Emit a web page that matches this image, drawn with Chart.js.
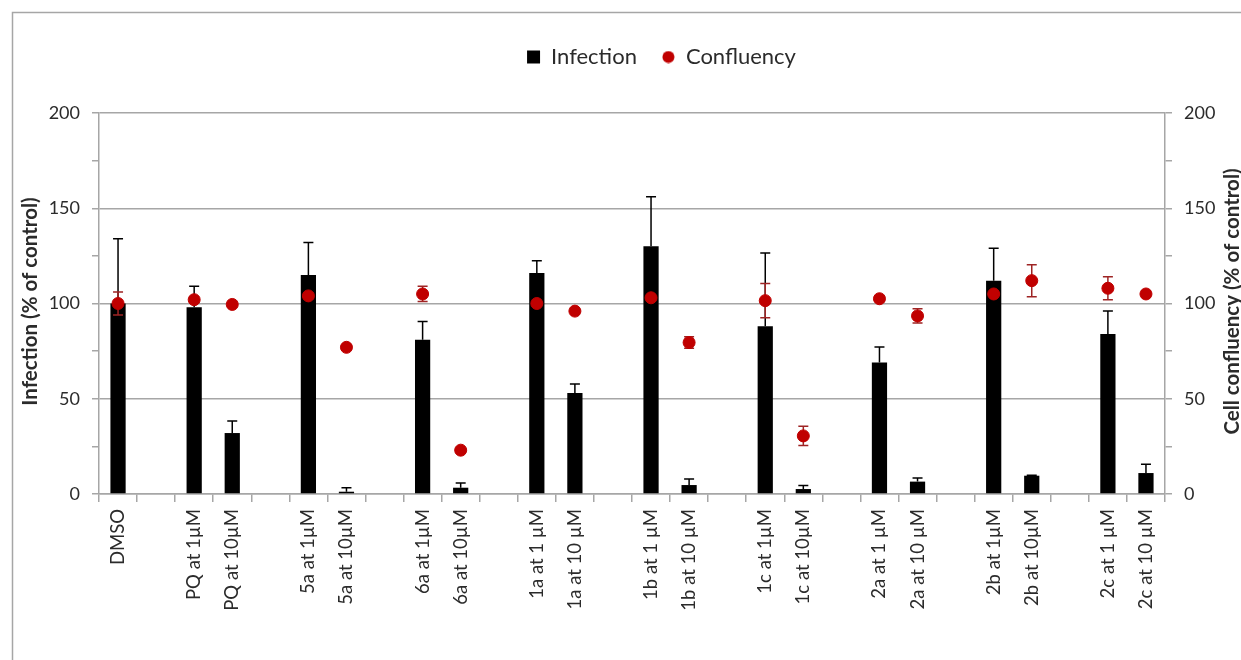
<!DOCTYPE html>
<html>
<head>
<meta charset="utf-8">
<script src="https://cdn.jsdelivr.net/npm/chart.js@4.4.1/dist/chart.umd.min.js"></script>
<style>
  html, body { margin: 0; padding: 0; background: #ffffff; }
  #wrap { width: 1241px; height: 660px; position: relative; }
</style>
</head>
<body>
<div id="wrap"><canvas id="c" width="1241" height="660"></canvas></div>
<script>
// Compounds tested at two concentrations; empty entries separate the groups.
const categories = [
  'DMSO', '',
  'PQ at 1µM', 'PQ at 10µM', '',
  '5a at 1µM', '5a at 10µM', '',
  '6a at 1µM', '6a at 10µM', '',
  '1a at 1 µM', '1a at 10 µM', '',
  '1b at 1 µM', '1b at 10 µM', '',
  '1c at 1µM', '1c at 10µM', '',
  '2a at 1 µM', '2a at 10 µM', '',
  '2b at 1µM', '2b at 10µM', '',
  '2c at 1 µM', '2c at 10 µM'
];

// Infection (% of control) and its upper error
const infection = [100, null, 98, 32, null, 115, 1.2, null, 81, 3.3, null, 116, 53, null, 130, 4.7, null, 88, 2.6, null, 69, 6.5, null, 112, 9.6, null, 84, 11];
const infectionErr = [34, null, 11, 6.3, null, 17, 2.1, null, 9.6, 2.5, null, 6.5, 4.7, null, 26, 3.2, null, 38.5, 1.9, null, 8.2, 1.9, null, 17, 0.3, null, 12, 4.6];

// Cell confluency (% of control) and its +/- error
const confluency = [100, null, 102, 99.5, null, 104, 77, null, 105, 23, null, 100, 96, null, 103, 79.5, null, 101.5, 30.5, null, 102.5, 93.5, null, 105, 112, null, 108, 105];
const confluencyErr = [6, null, 1.5, 1, null, 1.5, 1, null, 4, 1, null, 1, 1.5, null, 1, 3, null, 9, 5, null, 1.5, 3.7, null, 1, 8.4, null, 6, 1.5];

// Axis ticks (every 25 marked, every 50 labelled)
const yTickLabels = [0, 50, 100, 150, 200];

const axisTitles = { left: 'Infection (% of control)', right: 'Cell confluency (% of control)' };

const FONT = 'Lato, "Open Sans", "DejaVu Sans", sans-serif';
const TEXT = '#2b2b2b';
const GRID = '#a6a6a6';
const RED = '#c00000';

// Small round legend marker
const legendDot = document.createElement('canvas');
legendDot.width = 13; legendDot.height = 13;
(() => {
  const g = legendDot.getContext('2d');
  g.fillStyle = RED;
  g.beginPath(); g.arc(6.5, 6.5, 6, 0, Math.PI * 2); g.fill();
})();

// Whiskers: infection upward only (drawn over the bars), confluency both ways (under the dots)
const errorBars = {
  id: 'errorBars',
  _draw(chart, meta, ds) {
    const yScale = chart.scales[ds.yAxisID];
    const ctx = chart.ctx;
    ctx.save();
    ctx.strokeStyle = ds.errorColor;
    ctx.lineWidth = 1.5;
    meta.data.forEach((el, i) => {
      const v = ds.data[i], e = ds.errors[i];
      if (v == null || e == null) return;
      const x = el.x;
      const yTop = yScale.getPixelForValue(v + e);
      const yBot = yScale.getPixelForValue(ds.errorBoth ? v - e : v);
      const cap = 5;
      ctx.beginPath();
      ctx.moveTo(x, yTop); ctx.lineTo(x, yBot);
      ctx.moveTo(x - cap, yTop); ctx.lineTo(x + cap, yTop);
      if (ds.errorBoth) { ctx.moveTo(x - cap, yBot); ctx.lineTo(x + cap, yBot); }
      ctx.stroke();
    });
    ctx.restore();
  },
  beforeDatasetDraw(chart, args) {
    const ds = chart.data.datasets[args.index];
    if (ds.errors && ds.errorBoth) this._draw(chart, args.meta, ds);
  },
  afterDatasetDraw(chart, args) {
    const ds = chart.data.datasets[args.index];
    if (ds.errors && !ds.errorBoth) this._draw(chart, args.meta, ds);
  }
};

// Outer frame, legend offset and the two vertical axis titles (both read bottom to top)
const decorations = {
  id: 'decorations',
  afterLayout(chart) {
    // the legend sits a little right of the canvas centre
    if (chart.legend) chart.legend.left += 82;
  },
  beforeDraw(chart) {
    const ctx = chart.ctx;
    ctx.save();
    ctx.fillStyle = '#ffffff';
    ctx.fillRect(0, 0, chart.width, chart.height);
    ctx.strokeStyle = GRID;
    ctx.lineWidth = 1.5;
    ctx.strokeRect(12.5, 12.5, chart.width + 20, chart.height + 20);
    ctx.restore();
  },
  afterDraw(chart) {
    const ctx = chart.ctx;
    const area = chart.chartArea;
    const cy = (area.top + area.bottom) / 2 - 2;
    const put = (text, x) => {
      ctx.save();
      ctx.translate(x, cy);
      ctx.rotate(-Math.PI / 2);
      ctx.font = 'bold 20.5px ' + FONT;
      ctx.fillStyle = TEXT;
      ctx.textAlign = 'center';
      ctx.textBaseline = 'middle';
      ctx.fillText(text, 0, 0);
      ctx.restore();
    };
    put(axisTitles.left, 30);
    put(axisTitles.right, 1232);
  }
};

const yTicks = {
  stepSize: 25,
  color: TEXT,
  font: { family: FONT, size: 18 },
  padding: 12,
  callback: v => (yTickLabels.includes(v) ? v : '')
};

new Chart(document.getElementById('c'), {
  data: {
    labels: categories,
    datasets: [
      {
        type: 'bar',
        label: 'Infection',
        data: infection,
        errors: infectionErr,
        errorBoth: false,
        errorColor: '#000000',
        yAxisID: 'y',
        backgroundColor: '#000000',
        borderWidth: 0,
        barPercentage: 0.4,
        categoryPercentage: 1,
        pointStyle: 'rect',
        order: 2
      },
      {
        type: 'line',
        label: 'Confluency',
        data: confluency,
        errors: confluencyErr,
        errorBoth: true,
        errorColor: '#9e2424',
        yAxisID: 'y2',
        showLine: false,
        pointStyle: 'circle',
        pointRadius: 6,
        pointHoverRadius: 6,
        pointBackgroundColor: RED,
        pointBorderColor: RED,
        borderColor: RED,
        backgroundColor: RED,
        order: 1
      }
    ]
  },
  options: {
    responsive: false,
    animation: false,
    events: [],
    devicePixelRatio: 1,
    layout: { padding: { top: 21, left: 0, right: 0, bottom: 0 } },
    plugins: {
      tooltip: { enabled: false },
      legend: {
        position: 'top',
        labels: {
          usePointStyle: true,
          boxWidth: 13,
          boxHeight: 13,
          padding: 25,
          color: TEXT,
          font: { family: FONT, size: 22 },
          generateLabels(chart) {
            const items = Chart.defaults.plugins.legend.labels.generateLabels(chart);
            items.forEach(it => {
              const ds = chart.data.datasets[it.datasetIndex];
              it.pointStyle = ds.type === 'line' ? legendDot : 'rect';
              it.fillStyle = ds.backgroundColor;
              it.strokeStyle = ds.backgroundColor;
              it.lineWidth = 0;
            });
            return items.sort((a, b) => a.datasetIndex - b.datasetIndex);
          }
        }
      },
      title: {
        display: true,
        text: '',
        weight: 500,
        font: { size: 1, lineHeight: 1 },
        padding: { top: 0, bottom: 34 }
      }
    },
    scales: {
      x: {
        offset: true,
        grid: { offset: true, drawOnChartArea: false, color: GRID, tickLength: 8, lineWidth: 1.5 },
        border: { color: GRID, width: 1.5 },
        ticks: {
          autoSkip: false,
          maxRotation: 90,
          minRotation: 90,
          padding: 7,
          color: TEXT,
          font: { family: FONT, size: 18.5 }
        },
        afterFit(s) { s.height = 166; }
      },
      y: {
        position: 'left',
        min: 0,
        max: 200,
        ticks: yTicks,
        grid: {
          color: c => (c.tick && yTickLabels.includes(c.tick.value) ? GRID : 'rgba(0,0,0,0)'),
          tickColor: GRID,
          tickLength: 7,
          lineWidth: 1.5
        },
        border: { color: GRID, width: 1.5 },
        afterFit(s) { s.width = 99; }
      },
      y2: {
        position: 'right',
        min: 0,
        max: 200,
        ticks: yTicks,
        grid: { drawOnChartArea: false, color: GRID, tickColor: GRID, tickLength: 7, lineWidth: 1.5 },
        border: { color: GRID, width: 1.5 },
        afterFit(s) { s.width = 76; }
      }
    }
  },
  plugins: [errorBars, decorations]
});
</script>
</body>
</html>
